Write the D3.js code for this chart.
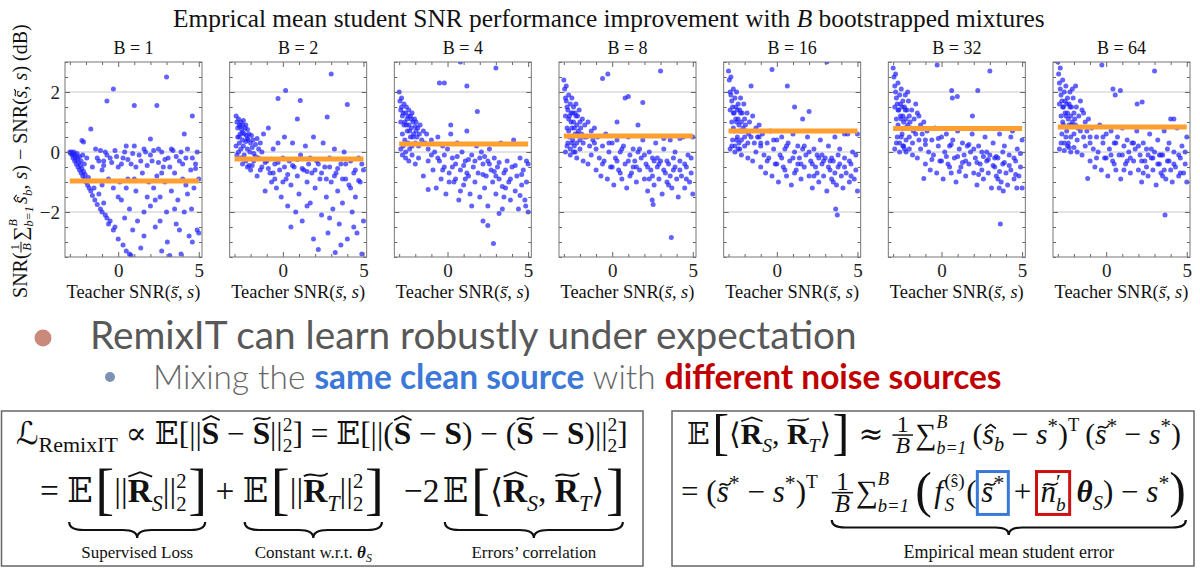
<!DOCTYPE html>
<html>
<head>
<meta charset="utf-8">
<title>RemixIT bootstrapped mixtures</title>
<script src="https://cdn.jsdelivr.net/npm/d3@7"></script>
<style>
  body { margin: 0; background: #fff; }
  svg text { white-space: pre; }
</style>
</head>
<body>
<svg id="chart" width="1200" height="570"></svg>
<script>
// ---- data ----
var categories = ['B = 1', 'B = 2', 'B = 4', 'B = 8', 'B = 16', 'B = 32', 'B = 64'];
var bValues = [1, 2, 4, 8, 16, 32, 64];
var meanImprovement = [-0.97, -0.23, 0.27, 0.53, 0.70, 0.78, 0.83];
var xTickLabels = [0, 5];
var yTickLabels = [-2, 0, 2];
var gridValues = [-2, 0, 2];

var pointsB1 = [[-3.0,0.0],[-2.95,-0.05],[-2.9,0.0],[-2.85,-0.1],[-2.8,-0.05],[-2.8,-0.2],[-2.75,0.0],[-2.7,-0.15],[-2.7,-0.3],[-2.65,-0.1],[-2.6,-0.25],[-2.6,-0.4],[-2.55,-0.05],[-2.5,-0.2],[-2.5,-0.5],[-2.45,-0.35],[-2.4,-0.6],[-2.4,-0.15],[-2.35,-0.45],[-2.3,-0.7],[-2.3,-0.3],[-2.25,-0.55],[-2.2,-0.8],[-2.2,-0.1],[-2.15,-0.65],[-2.1,-0.4],[-2.1,-0.9],[-2.05,-0.75],[-2.0,-1.0],[-1.95,-0.2],[-1.9,-1.1],[-1.85,-0.85],[-1.8,-1.2],[-1.7,-1.3],[-1.6,-0.5],[-1.6,-1.45],[-1.5,-1.2],[-1.45,-1.6],[-1.3,-1.75],[-1.2,-1.4],[-1.1,-1.9],[-1.0,-2.0],[-0.9,-1.7],[-0.8,-2.1],[-0.7,-2.2],[-0.6,-2.4],[-0.5,-2.3],[-0.3,-2.6],[-0.2,-2.5],[0.0,-2.9],[0.3,-3.1],[0.5,-3.3],[0.7,-3.4],[0.8,-3.45],
  [3.0,2.5],[-0.3,2.1],[-0.7,1.7],[1.0,1.55],[2.4,1.55],[4.6,1.2],[-1.7,0.77],[-2.25,0.38],[-2.15,0.33],[2.0,0.43],[4.1,0.6],
  [-1.4,0.1],[-1.2,-0.3],[-1.0,-0.6],[-0.8,0.0],[-0.6,-0.9],[-0.5,-0.2],[-0.3,-1.2],[-0.2,0.05],[0.0,-0.5],[0.2,-1.6],[0.3,-0.2],[0.5,0.2],[0.6,-0.9],[0.7,-1.9],[0.8,-0.4],[1.0,0.2],[1.1,-1.3],[1.2,-2.3],[1.3,-0.1],[1.5,-0.7],[1.6,-2.8],[1.7,0.0],[1.9,-1.0],[2.0,-1.8],[2.1,-0.3],[2.3,-2.5],[2.4,-0.8],[2.5,0.1],[2.6,-1.5],[2.7,-3.3],[2.8,-0.5],[2.9,-1.0],[3.0,-2.0],[3.1,-0.2],[3.2,-3.45],[3.3,-1.3],[3.4,0.05],[3.5,-0.7],[3.6,-2.4],[3.7,-1.6],[3.8,-0.3],[3.9,-3.4],[4.0,-0.9],[4.1,-2.0],[4.2,-0.2],[4.3,-1.4],[4.4,-2.8],[4.5,-0.6],[4.6,-3.0],[4.7,-1.2],[4.8,-0.4],[4.9,-2.6],[5.0,-0.9],[5.0,-2.7],[0.1,-1.0],[0.9,-2.6],[1.4,-3.2],[2.2,-1.2],[3.05,-3.0],[4.55,-1.9],[-0.9,-0.3],[0.4,-2.2],[1.8,-1.5],[2.7,-0.7],
  [-1.3,-0.2],[-1.1,0.05],[-0.9,-0.45],[-0.7,-0.1],[-0.4,-0.35],[-0.1,-0.15],[0.2,-0.4],[0.4,0.0],[0.6,-0.25],[0.9,-0.05],[1.1,-0.5],[1.4,-0.3],[1.6,0.1],[1.8,-0.45],[2.0,-0.1],[2.2,0.05],[2.5,-0.35],[2.7,0.0],[2.9,-0.25],[3.2,-0.5],[3.3,0.1],[3.6,-0.15],[3.9,0.0],[4.0,-0.4],[4.3,0.1],[4.6,-0.2],[4.8,-0.55],[4.9,0.0],[-1.0,-1.1],[0.0,-1.5],[1.0,-0.9],[2.3,-1.6],[3.5,-1.9],[4.2,-1.1],[0.5,-1.2],[1.6,-2.0],[2.6,-2.3],[3.8,-2.6]];

var pointsB2 = [[-2.9,1.2],[-2.85,1.0],[-2.8,0.8],[-2.8,0.5],[-2.75,1.1],[-2.7,0.3],[-2.7,0.9],[-2.65,0.6],[-2.6,1.0],[-2.6,0.1],[-2.55,0.75],[-2.5,0.4],[-2.5,0.9],[-2.45,0.2],[-2.4,0.6],[-2.4,-0.1],[-2.35,0.8],[-2.3,0.35],[-2.25,0.55],[-2.2,0.1],[-2.2,0.75],[-2.15,0.4],[-2.1,0.6],[-2.05,0.0],[-2.0,0.3],[-1.95,0.55],[-1.9,0.15],[-1.85,0.4],[-1.8,-0.05],[-1.7,0.25],[-1.6,0.45],[-1.5,0.1],[-1.4,0.3],[-1.3,0.0],[-2.9,0.2],[-2.85,-0.1],[-2.75,0.0],[-2.6,-0.2],[-2.5,-0.4],[-2.3,-0.3],[-2.1,-0.45],
  [-2.0,-0.6],[-1.8,-0.3],[-1.6,-0.8],[-1.5,-0.2],[-1.3,-0.5],[-1.2,0.6],[-1.1,-1.3],[-1.0,-0.3],[-0.9,0.8],[-0.8,-0.7],[-0.7,-1.0],[-0.6,0.1],[-0.5,-0.4],[-0.4,-1.2],[-0.3,0.3],[-0.2,-0.6],[-0.1,-1.5],[0.0,-0.2],[0.1,0.5],[0.2,-0.9],[0.3,-1.8],[0.4,-0.3],[0.5,-1.1],[0.6,0.3],[0.7,-0.5],[0.8,-2.0],[0.9,-0.8],[1.0,-1.4],[1.1,-0.1],[1.2,-2.3],[1.3,-0.6],[1.4,0.2],[1.5,-1.0],[1.6,-0.4],[1.7,-1.7],[1.8,-0.7],[1.9,0.5],[2.0,-1.2],[2.1,-0.3],[2.2,-3.25],[2.3,-0.9],[2.4,-2.1],[2.5,0.3],[2.6,-0.5],[2.7,-1.5],[2.8,-2.7],[2.9,-0.2],[3.0,-1.0],[3.1,-1.9],[3.2,0.1],[3.25,-3.35],[3.3,-0.7],[3.4,-1.3],[3.5,-2.4],[3.6,-0.4],[3.7,-1.7],[3.8,0.0],[3.9,-0.9],[4.0,-2.9],[4.1,-1.1],[4.2,-0.3],[4.3,-2.0],[4.4,-0.7],[4.5,-1.5],[4.6,-2.7],[4.7,-0.2],[4.8,-1.0],[4.9,-3.4],[5.0,-0.6],[5.0,-2.3],[0.5,-2.5],[1.9,-2.9],[2.9,-2.2],[3.6,-3.1],[4.4,-2.5],[0.0,-1.0],[1.5,-1.8],[-0.5,-0.9],
  [3.0,2.6],[0.17,2.05],[-0.3,1.78],[1.08,1.72],[4.0,1.58],[0.9,1.1],[2.75,1.17],
  [-2.2,-0.5],[-1.9,-0.45],[-1.7,-0.15],[-1.4,-0.6],[-1.1,-0.35],[-0.9,-0.55],[-0.6,-0.7],[-0.3,-0.35],[0.1,-0.5],[0.3,-0.75],[0.6,-0.45],[0.9,-0.25],[1.2,-0.55],[1.5,-0.65],[1.7,-0.2],[2.0,-0.6],[2.2,-0.4],[2.4,-0.7],[2.7,-0.9],[2.9,-0.5],[3.2,-0.8],[3.4,-0.55],[3.7,-0.9],[3.9,-0.4],[4.2,-1.2],[4.5,-0.6],[4.7,-0.95],[4.9,-0.4],[-2.7,0.5],[-2.5,0.65],[-2.3,0.9],[-2.65,0.85],[-2.45,1.05],[-2.2,0.45]];

var pointsB4 = [[-3.0,2.0],[-2.95,1.7],[-2.9,1.4],[-2.9,1.0],[-2.85,1.8],[-2.8,0.6],[-2.8,1.2],[-2.75,0.2],[-2.7,1.6],[-2.7,0.9],[-2.65,0.4],[-2.6,1.3],[-2.6,0.0],[-2.55,1.5],[-2.5,0.7],[-2.5,1.1],[-2.45,0.3],[-2.4,1.4],[-2.4,0.9],[-2.35,0.1],[-2.3,1.2],[-2.3,0.5],[-2.25,0.8],[-2.2,1.3],[-2.2,0.2],[-2.15,1.0],[-2.1,0.6],[-2.05,1.1],[-2.0,0.3],[-2.0,0.85],[-1.95,1.0],[-1.9,0.5],[-1.85,0.8],[-1.8,0.2],[-1.7,0.9],[-1.6,0.4],[-1.5,0.7],[-1.4,0.3],[-1.3,0.6],[-1.2,0.1],[-2.9,0.1],[-2.8,-0.1],[-2.6,-0.2],[-2.4,-0.3],[-2.2,-0.1],[-2.0,-0.4],[-1.8,-0.2],
  [-1.5,-0.8],[-1.2,-0.3],[-1.0,0.4],[-0.9,-0.6],[-0.8,0.0],[-0.7,-1.2],[-0.6,0.5],[-0.5,-0.3],[-0.4,-0.9],[-0.3,0.2],[-0.2,-0.5],[-0.1,-1.4],[0.0,0.1],[0.1,-0.7],[0.2,0.6],[0.3,-0.2],[0.4,-1.0],[0.5,-0.4],[0.6,0.3],[0.7,-1.6],[0.8,-0.6],[0.9,0.0],[1.0,-1.1],[1.1,-0.3],[1.2,0.7],[1.3,-0.8],[1.4,-1.4],[1.5,-0.1],[1.6,-0.5],[1.7,-1.0],[1.8,0.2],[1.9,-0.7],[2.0,-1.5],[2.1,0.0],[2.2,-0.4],[2.3,-1.2],[2.4,-0.8],[2.5,-1.8],[2.6,0.1],[2.7,-0.6],[2.8,-1.0],[2.9,-0.2],[3.0,-1.4],[3.1,-0.5],[3.2,-0.9],[3.3,0.3],[3.4,-1.9],[3.5,-0.7],[3.6,-1.2],[3.7,-0.3],[3.8,-1.0],[3.9,-1.6],[4.0,-0.5],[4.1,0.4],[4.2,-1.3],[4.3,-0.8],[4.4,-1.9],[4.5,-0.2],[4.6,-1.1],[4.7,-0.6],[4.8,-1.6],[4.9,-1.0],[5.0,-0.4],[5.0,-2.0],[4.85,-1.8],[0.5,-0.9],[1.5,-1.8],[2.5,-0.3],[3.5,-1.5],[4.5,-1.45],[0.8,-1.3],[2.0,-0.2],[3.0,-0.8],[-0.3,-0.6],[1.2,-0.7],
  [0.8,3.0],[-0.5,2.3],[-0.2,2.3],[1.2,2.2],[3.0,2.8],[2.2,-2.3],[2.5,-2.45],[2.85,-3.05],[3.2,-2.05],[1.85,1.35],[-1.2,-1.25],[0.1,-1.0],[0.2,0.9],
  [-2.85,1.5],[-2.75,1.3],[-2.65,1.0],[-2.55,0.9],[-2.45,1.2],[-2.35,0.7],[-2.25,1.1],[-2.15,0.5],[-1.95,0.7],[-1.75,0.6],[-1.0,-0.1],[-0.6,-0.2],[-0.2,-0.1],[0.3,-0.5],[0.6,-0.15],[1.0,-0.45],[1.3,-0.25],[1.7,-0.3],[2.2,-0.75],[2.6,-0.4],[2.9,-0.65],[3.2,-0.35],[3.6,-0.6],[3.9,-0.9],[4.2,-0.45],[4.6,-0.75],[4.9,-0.3],[1.1,-0.9],[2.3,-0.15],[3.4,-1.15]];

var pointsB8 = [[-3.0,2.4],[-2.95,2.1],[-2.9,1.8],[-2.9,1.2],[-2.85,2.2],[-2.8,0.8],[-2.8,1.5],[-2.75,0.3],[-2.7,1.9],[-2.7,1.1],[-2.65,0.5],[-2.6,1.6],[-2.6,0.1],[-2.55,1.3],[-2.5,0.8],[-2.5,1.8],[-2.45,0.4],[-2.4,1.5],[-2.4,1.0],[-2.35,0.2],[-2.3,1.3],[-2.3,0.6],[-2.25,1.6],[-2.2,0.9],[-2.2,0.3],[-2.15,1.2],[-2.1,0.7],[-2.05,1.4],[-2.0,0.4],[-2.0,1.0],[-1.9,0.6],[-1.85,1.1],[-1.8,0.3],[-1.7,0.9],[-1.6,0.5],[-1.5,1.0],[-1.4,0.2],[-1.3,0.7],[-1.2,0.4],[-1.1,0.8],[-2.9,0.0],[-2.8,0.2],[-2.6,-0.1],[-2.4,0.0],[-2.2,-0.2],[-2.0,0.1],[-1.8,-0.3],[-2.7,0.7],[-2.5,0.3],[-2.3,0.0],
  [-1.5,-0.4],[-1.3,-0.1],[-1.1,0.3],[-1.0,-0.6],[-0.9,0.5],[-0.8,-0.2],[-0.7,-0.8],[-0.6,0.2],[-0.5,-0.3],[-0.4,0.6],[-0.3,-0.9],[-0.2,0.0],[-0.1,-0.5],[0.0,0.3],[0.1,-1.1],[0.2,-0.2],[0.3,0.4],[0.4,-0.6],[0.5,0.0],[0.6,-0.9],[0.7,0.2],[0.8,-0.4],[0.9,-1.2],[1.0,0.5],[1.1,-0.1],[1.2,-0.7],[1.3,0.1],[1.4,-0.3],[1.5,-1.0],[1.6,0.0],[1.7,-0.6],[1.8,-0.2],[1.9,0.4],[2.0,-0.9],[2.1,-0.4],[2.2,-1.3],[2.3,0.0],[2.4,-0.6],[2.5,-0.2],[2.6,-1.1],[2.7,0.3],[2.8,-0.5],[2.9,-0.9],[3.0,-0.3],[3.1,-1.4],[3.2,0.1],[3.3,-0.7],[3.4,-1.0],[3.5,-0.4],[3.6,0.4],[3.7,-1.2],[3.8,-0.6],[3.9,0.0],[4.0,-0.9],[4.1,-1.5],[4.2,-0.3],[4.3,-0.8],[4.4,0.5],[4.5,-1.2],[4.6,-0.5],[4.7,-0.1],[4.8,-1.0],[4.9,-0.7],[5.0,-1.4],[5.0,0.5],[4.2,0.45],[3.2,0.45],[0.5,-0.7],[1.5,-0.5],[2.5,-0.8],[3.5,-1.1],[4.5,-0.4],[0.0,-0.5],[2.0,-0.1],[2.8,-0.2],[3.8,-0.2],
  [-0.27,2.6],[-0.6,2.45],[3.0,2.7],[1.0,1.85],[0.8,1.8],[1.9,1.65],[3.67,-2.85],[2.48,-1.6],[2.54,-1.75],[0.3,1.0],[1.6,0.9],
  [-2.85,1.7],[-2.75,1.4],[-2.65,1.2],[-2.55,1.0],[-2.45,1.3],[-2.35,0.8],[-2.25,1.2],[-2.15,0.6],[-1.95,0.8],[-1.75,0.5],[-1.0,0.1],[-0.6,-0.4],[-0.2,0.3],[0.3,-0.3],[0.6,0.1],[1.0,-0.3],[1.3,-0.5],[1.7,0.1],[2.2,-0.5],[2.6,-0.3],[2.9,-0.4],[3.2,-0.6],[3.6,-0.8],[3.9,-0.5],[4.2,-0.6],[4.6,-0.9],[4.9,-0.2],[1.1,-0.8],[2.3,-0.9],[3.4,-0.3]];

var pointsB16 = [[-3.0,2.7],[-2.95,2.4],[-2.9,2.0],[-2.9,1.4],[-2.85,2.5],[-2.8,1.0],[-2.8,1.7],[-2.75,0.4],[-2.7,2.1],[-2.7,1.3],[-2.65,0.7],[-2.6,1.8],[-2.6,0.2],[-2.55,1.5],[-2.5,1.0],[-2.5,2.0],[-2.45,0.5],[-2.4,1.6],[-2.4,1.1],[-2.35,0.3],[-2.3,1.4],[-2.3,0.7],[-2.25,1.8],[-2.2,1.0],[-2.2,0.4],[-2.15,1.3],[-2.1,0.8],[-2.05,1.6],[-2.0,0.5],[-2.0,1.1],[-1.9,0.7],[-1.85,1.3],[-1.8,0.3],[-1.7,1.0],[-1.6,0.5],[-1.5,1.2],[-1.4,0.3],[-1.3,0.8],[-1.2,0.5],[-1.1,0.9],[-2.9,0.1],[-2.8,0.2],[-2.6,0.0],[-2.4,0.1],[-2.2,-0.1],[-2.0,0.2],[-1.8,-0.2],[-2.7,0.8],[-2.5,0.4],[-2.3,0.1],[-1.0,0.3],
  [-1.5,-0.3],[-1.3,0.0],[-1.1,0.5],[-1.0,-0.5],[-0.9,0.6],[-0.8,-0.1],[-0.7,-0.7],[-0.6,0.3],[-0.5,-0.2],[-0.4,0.7],[-0.3,-0.8],[-0.2,0.1],[-0.1,-0.4],[0.0,0.4],[0.1,-1.0],[0.2,-0.1],[0.3,0.5],[0.4,-0.5],[0.5,0.1],[0.6,-0.8],[0.7,0.3],[0.8,-0.3],[0.9,-1.1],[1.0,0.6],[1.1,0.0],[1.2,-0.6],[1.3,0.2],[1.4,-0.2],[1.5,-0.9],[1.6,0.1],[1.7,-0.5],[1.8,-0.1],[1.9,0.5],[2.0,-0.8],[2.1,-0.3],[2.2,-1.2],[2.3,0.1],[2.4,-0.5],[2.5,-0.1],[2.6,-1.0],[2.7,0.4],[2.8,-0.4],[2.9,-0.8],[3.0,-0.2],[3.1,-1.3],[3.2,0.2],[3.3,-0.6],[3.4,-0.9],[3.5,-0.3],[3.6,0.5],[3.7,-1.1],[3.8,-0.5],[3.9,0.1],[4.0,-0.8],[4.1,-1.2],[4.2,-0.2],[4.3,-0.7],[4.4,0.6],[4.5,-1.0],[4.6,-0.4],[4.7,0.0],[4.8,-0.9],[4.9,-0.6],[5.0,-1.3],[5.0,0.6],[4.2,0.6],[0.5,-0.6],[1.5,-0.4],[2.5,-0.7],[3.5,-1.0],[4.5,-0.3],[0.0,-0.4],[2.0,0.0],[2.8,-0.1],[3.8,-0.1],[3.3,-0.3],
  [3.1,3.0],[-0.3,2.75],[0.65,2.2],[1.1,1.5],[2.0,1.35],[3.65,-1.9],[3.75,-2.1],[-1.6,2.2],[1.6,1.1],
  [-2.85,1.9],[-2.75,1.5],[-2.65,1.3],[-2.55,1.1],[-2.45,1.4],[-2.35,0.9],[-2.25,1.3],[-2.15,0.7],[-1.95,0.9],[-1.75,0.6],[-1.0,0.2],[-0.6,-0.3],[-0.2,0.4],[0.3,-0.2],[0.6,0.2],[1.0,-0.2],[1.3,-0.4],[1.7,0.2],[2.2,-0.4],[2.6,-0.2],[2.9,-0.3],[3.2,-0.5],[3.6,-0.7],[3.9,-0.4],[4.2,-0.5],[4.6,-0.8],[4.9,-0.1],[1.1,-0.7],[2.3,-0.8],[3.4,-0.2]];

var pointsB32 = [[-3.0,2.8],[-2.95,2.5],[-2.9,2.2],[-2.9,1.5],[-2.85,2.6],[-2.8,1.1],[-2.8,1.8],[-2.75,0.5],[-2.7,2.3],[-2.7,1.4],[-2.65,0.8],[-2.6,1.9],[-2.6,0.3],[-2.55,1.6],[-2.5,1.1],[-2.5,2.1],[-2.45,0.6],[-2.4,1.7],[-2.4,1.2],[-2.35,0.2],[-2.3,1.5],[-2.3,0.8],[-2.25,1.9],[-2.2,1.1],[-2.2,0.4],[-2.15,1.4],[-2.1,0.9],[-2.05,1.7],[-2.0,0.5],[-2.0,1.2],[-1.9,0.8],[-1.85,1.4],[-1.8,0.3],[-1.7,1.1],[-1.6,0.6],[-1.5,1.3],[-1.4,0.4],[-1.3,0.9],[-1.2,0.6],[-1.1,1.0],[-2.9,0.1],[-2.8,0.3],[-2.6,0.0],[-2.4,0.2],[-2.2,0.0],[-2.0,0.1],[-1.8,-0.1],[-2.7,0.9],[-2.5,0.5],[-2.3,0.1],[-1.0,0.4],[-1.6,1.6],[-1.4,1.2],[-2.1,2.0],
  [-1.5,-0.2],[-1.3,0.1],[-1.1,-0.88],[-1.0,-0.4],[-0.9,0.7],[-0.8,0.0],[-0.7,-0.6],[-0.6,0.4],[-0.5,-0.1],[-0.4,0.8],[-0.3,-0.7],[-0.2,0.2],[-0.1,-0.3],[0.0,0.5],[0.1,-0.9],[0.2,0.0],[0.3,0.6],[0.4,-0.4],[0.5,0.2],[0.6,-0.7],[0.7,0.4],[0.8,-0.2],[0.9,-1.0],[1.0,0.7],[1.1,0.1],[1.2,-0.5],[1.3,0.3],[1.4,-0.1],[1.5,-0.8],[1.6,0.2],[1.7,-0.4],[1.8,0.0],[1.9,0.6],[2.0,-0.7],[2.1,-0.2],[2.2,-1.1],[2.3,0.2],[2.4,-0.4],[2.5,0.0],[2.6,-0.9],[2.7,0.5],[2.8,-0.3],[2.9,-0.7],[3.0,-0.1],[3.1,-1.2],[3.2,0.3],[3.3,-0.5],[3.4,-0.8],[3.5,-0.2],[3.6,0.6],[3.7,-1.0],[3.8,-0.4],[3.9,0.2],[4.0,-0.7],[4.1,-1.1],[4.2,-0.1],[4.3,-0.6],[4.4,0.7],[4.5,-0.9],[4.6,-0.3],[4.7,0.1],[4.8,-0.8],[4.9,-0.5],[5.0,-1.2],[5.0,0.4],[4.3,0.5],[0.5,-0.5],[1.5,-0.3],[2.5,-0.6],[3.5,-0.9],[4.5,-0.2],[0.0,-0.3],[2.0,0.1],[2.8,0.0],[3.8,0.0],[3.3,-0.2],
  [-0.27,2.9],[3.0,2.7],[2.25,2.05],[0.63,2.05],[0.98,1.85],[0.67,1.8],[3.65,-2.4],[3.58,-1.2],[3.83,-1.3],[4.67,-1.2],[1.92,1.2],
  [-2.85,2.0],[-2.75,1.6],[-2.65,1.4],[-2.55,1.2],[-2.45,1.5],[-2.35,1.0],[-2.25,1.4],[-2.15,0.8],[-1.95,1.0],[-1.75,0.7],[-1.0,0.25],[-0.6,-0.25],[-0.2,0.45],[0.3,-0.15],[0.6,0.25],[1.0,-0.15],[1.3,-0.35],[1.7,0.25],[2.2,-0.35],[2.6,-0.15],[2.9,-0.25],[3.2,-0.45],[3.6,-0.65],[3.9,-0.35],[4.2,-0.45],[4.6,-0.75],[4.9,-0.05],[1.1,-0.65],[2.3,-0.75],[3.4,-0.15]];

var pointsB64 = [[-3.0,3.0],[-2.95,2.6],[-2.9,2.3],[-2.9,1.6],[-2.85,2.8],[-2.8,1.2],[-2.8,1.9],[-2.75,0.6],[-2.7,2.4],[-2.7,1.5],[-2.65,0.9],[-2.6,2.0],[-2.6,0.3],[-2.55,1.7],[-2.5,1.2],[-2.5,2.2],[-2.45,0.7],[-2.4,1.8],[-2.4,1.3],[-2.35,0.3],[-2.3,1.6],[-2.3,0.9],[-2.25,2.0],[-2.2,1.2],[-2.2,0.5],[-2.15,1.5],[-2.1,1.0],[-2.05,1.8],[-2.0,0.6],[-2.0,1.3],[-1.9,0.9],[-1.85,1.5],[-1.8,0.4],[-1.7,1.2],[-1.6,0.7],[-1.5,1.4],[-1.4,0.5],[-1.3,1.0],[-1.2,0.7],[-1.1,1.1],[-2.9,0.1],[-2.8,0.3],[-2.6,0.05],[-2.4,0.2],[-2.2,0.0],[-2.0,0.15],[-1.8,0.0],[-2.7,1.0],[-2.5,0.5],[-2.3,0.15],[-1.0,0.5],[-1.6,1.7],[-1.4,1.3],[-2.1,2.1],[-1.9,2.2],
  [-1.5,-0.1],[-1.3,0.2],[-1.15,-0.88],[-1.0,-0.3],[-0.9,0.8],[-0.8,0.1],[-0.7,-0.5],[-0.6,0.5],[-0.5,0.0],[-0.4,0.9],[-0.3,-0.6],[-0.2,0.3],[-0.1,-0.2],[0.0,0.6],[0.1,-0.8],[0.2,0.1],[0.3,0.7],[0.4,-0.3],[0.5,0.3],[0.6,-0.6],[0.7,0.5],[0.8,-0.1],[0.9,-0.9],[1.0,0.8],[1.1,0.2],[1.2,-0.4],[1.3,0.4],[1.4,0.0],[1.5,-0.7],[1.6,0.3],[1.7,-0.3],[1.8,0.1],[1.9,0.7],[2.0,-0.6],[2.1,-0.1],[2.2,-1.0],[2.3,0.3],[2.4,-0.3],[2.5,0.1],[2.6,-0.8],[2.7,0.6],[2.8,-0.2],[2.9,-0.6],[3.0,0.0],[3.1,-1.1],[3.2,0.4],[3.3,-0.4],[3.4,-0.7],[3.5,-0.1],[3.6,0.7],[3.7,-0.9],[3.8,-0.3],[3.9,0.3],[4.0,-0.6],[4.1,-1.0],[4.2,0.0],[4.3,-0.5],[4.4,0.8],[4.5,-0.8],[4.6,-0.2],[4.7,0.2],[4.8,-0.7],[4.9,-0.4],[5.0,-1.0],[5.0,0.5],[0.5,-0.4],[1.5,-0.2],[2.5,-0.5],[3.5,-0.8],[4.5,-0.1],[0.0,-0.2],[2.0,0.2],[2.8,0.1],[3.8,0.1],[3.3,-0.1],
  [-0.27,2.9],[3.0,2.7],[0.42,2.1],[0.88,2.05],[0.56,1.9],[1.92,1.6],[2.23,1.67],[3.65,-2.1],[4.0,1.1],[4.2,1.1],
  [-2.85,2.1],[-2.75,1.7],[-2.65,1.5],[-2.55,1.3],[-2.45,1.6],[-2.35,1.1],[-2.25,1.5],[-2.15,0.9],[-1.95,1.1],[-1.75,0.8],[-1.0,0.3],[-0.6,-0.2],[-0.2,0.5],[0.3,-0.1],[0.6,0.3],[1.0,-0.1],[1.3,-0.3],[1.7,0.3],[2.2,-0.3],[2.6,-0.1],[2.9,-0.2],[3.2,-0.4],[3.6,-0.6],[3.9,-0.3],[4.2,-0.4],[4.6,-0.7],[4.9,0.0],[1.1,-0.6],[2.3,-0.7],[3.4,-0.1]];

var panelPoints = [pointsB1, pointsB2, pointsB4, pointsB8, pointsB16, pointsB32, pointsB64];

// ---- fonts / helpers ----
var SERIF = "'Liberation Serif','Times New Roman',serif";
var MATHF = "'DejaVu Serif','DejaVu Sans',serif";
var LATO = "Lato,'Open Sans',sans-serif";

var svg = d3.select('#chart');

function accent(g, type, sx, w, yb, size, it, ah) {
  var top = yb - (ah || 0.74) * size;
  var off = it ? 0.1 * size : 0.02 * size;
  var x1 = sx + off, x2 = sx + w + off * 0.6;
  var d;
  if (type === 'hat') {
    d = 'M' + x1 + ',' + (top - 0.02 * size) + 'L' + ((x1 + x2) / 2) + ',' + (top - 0.15 * size) +
        'L' + x2 + ',' + (top - 0.02 * size);
  } else {
    d = 'M' + x1 + ',' + (top - 0.03 * size) + 'C' + (x1 + (x2 - x1) * 0.35) + ',' + (top - 0.2 * size) +
        ' ' + (x1 + (x2 - x1) * 0.62) + ',' + (top + 0.08 * size) + ' ' + x2 + ',' + (top - 0.12 * size);
  }
  g.append('path').attr('d', d).attr('fill', 'none').attr('stroke', '#111')
    .attr('stroke-width', Math.max(1, 0.055 * size));
}

// lays text pieces one after another; returns width and marked positions
function typeset(g, x0, y0, parts, fs) {
  var x = x0, start = x0, marks = {};
  parts.forEach(function (p) {
    if (p.k) x += p.k * fs;
    var sx = p.same ? start : x;
    if (p.m0) marks[p.m0] = { x0: sx };
    if (p.frac) {
      var ds = fs * (p.s || 0.7);
      var bary = y0 - 0.3 * fs;
      var num = g.append('text').attr('font-size', ds).attr('font-family', SERIF)
        .attr('fill', '#111').text(p.frac[0]);
      var den = g.append('text').attr('font-size', ds).attr('font-family', SERIF)
        .attr('font-style', 'italic').attr('fill', '#111').text(p.frac[1]);
      var wn = num.node().getComputedTextLength(), wd = den.node().getComputedTextLength();
      var W = Math.max(wn, wd) + 0.25 * ds;
      num.attr('x', sx + (W - wn) / 2).attr('y', bary - 0.1 * fs);
      den.attr('x', sx + (W - wd) / 2).attr('y', bary + 0.08 * fs + 0.66 * ds);
      g.append('line').attr('x1', sx).attr('x2', sx + W).attr('y1', bary).attr('y2', bary)
        .attr('stroke', '#111').attr('stroke-width', Math.max(0.8, 0.05 * fs));
      start = sx; x = sx + W;
    } else {
      var size = fs * (p.s || 1);
      var yb = y0 + (p.dy || 0) * fs;
      var t = g.append('text')
        .attr('x', sx).attr('y', yb)
        .attr('xml:space', 'preserve')
        .attr('font-size', size)
        .attr('font-family', p.f || SERIF)
        .attr('font-style', p.it ? 'italic' : null)
        .attr('font-weight', p.w || (p.b ? 'bold' : null))
        .attr('fill', p.col || '#111')
        .text(p.t);
      var w = t.node().getComputedTextLength();
      if (p.same) { x = Math.max(x, sx + w); } else { start = sx; x = sx + w; }
      if (p.acc) accent(g, p.acc, sx, w, yb, size, p.it, p.ah);
    }
    if (p.m1) { marks[p.m1] = marks[p.m1] || {}; marks[p.m1].x1 = x; }
  });
  return { width: x - x0, marks: marks, fs: fs };
}

function fit(parent, x0, y0, parts, target, fs0) {
  var tmp = parent.append('g');
  var r0 = typeset(tmp, 0, 0, parts, fs0);
  tmp.remove();
  return typeset(parent, x0, y0, parts, fs0 * target / r0.width);
}

function centered(parent, cx, y0, parts, fs) {
  var tmp = parent.append('g');
  var w = typeset(tmp, 0, 0, parts, fs).width;
  tmp.remove();
  return typeset(parent, cx - w / 2, y0, parts, fs);
}

function brace(g, x1, x2, y, h) {
  var m = (x1 + x2) / 2, r = Math.min(h * 0.9, (x2 - x1) / 6);
  var d = 'M' + x1 + ',' + y +
    'Q' + x1 + ',' + (y + h / 2) + ' ' + (x1 + r) + ',' + (y + h / 2) +
    'L' + (m - r) + ',' + (y + h / 2) +
    'Q' + m + ',' + (y + h / 2) + ' ' + m + ',' + (y + h) +
    'Q' + m + ',' + (y + h / 2) + ' ' + (m + r) + ',' + (y + h / 2) +
    'L' + (x2 - r) + ',' + (y + h / 2) +
    'Q' + x2 + ',' + (y + h / 2) + ' ' + x2 + ',' + y;
  g.append('path').attr('d', d).attr('fill', 'none').attr('stroke', '#111').attr('stroke-width', 2.2);
}

// ---- scatter panels ----
var top0 = 62, bottom0 = 257;
var band = d3.scaleBand().domain(categories).range([65, 1190]).paddingInner(0.168);
var bw = band.bandwidth();
var x = d3.scaleLinear().domain([-3.3, 5.2]).range([0, bw]);
var y = d3.scaleLinear().domain([-3.5, 3]).range([bottom0, top0]);
var minus = function (d) { return d < 0 ? '\u2212' + (-d) : String(d); };

fit(svg, 173, 27, [
  { t: 'Emprical mean student SNR performance improvement with ' },
  { t: 'B', it: true },
  { t: ' bootstrapped mixtures' }
], 872, 22);

categories.forEach(function (cat, i) {
  var g = svg.append('g').attr('transform', 'translate(' + band(cat) + ',0)');

  g.append('clipPath').attr('id', 'clip' + i).append('rect')
    .attr('x', 0).attr('y', top0).attr('width', bw).attr('height', bottom0 - top0);

  g.selectAll('line.grid').data(gridValues).enter().append('line')
    .attr('class', 'grid')
    .attr('x1', 0).attr('x2', bw)
    .attr('y1', function (d) { return y(d); }).attr('y2', function (d) { return y(d); })
    .attr('stroke', '#c8c8c8').attr('stroke-width', 1);

  var plot = g.append('g').attr('clip-path', 'url(#clip' + i + ')');
  plot.selectAll('circle').data(panelPoints[i]).enter().append('circle')
    .attr('cx', function (d) { return x(d[0]); })
    .attr('cy', function (d) { return y(d[1]); })
    .attr('r', 2.5)
    .attr('fill', '#2020ff')
    .attr('fill-opacity', 0.7);

  plot.append('line')
    .attr('x1', x(-3)).attr('x2', x(5))
    .attr('y1', y(meanImprovement[i])).attr('y2', y(meanImprovement[i]))
    .attr('stroke', '#ff9f30').attr('stroke-width', 5);

  // inward ticks on all four sides
  var xt = d3.range(-3, 6), ytk = d3.range(-3.5, 3.01, 0.5);
  var big = function (v) { return v === 0 || v === 5; };
  var bigY = function (v) { return v === -2 || v === 0 || v === 2; };
  [['bottom', bottom0], ['top', top0]].forEach(function (s) {
    var ax = (s[0] === 'bottom' ? d3.axisBottom(x) : d3.axisTop(x)).tickValues(xt).tickSize(0).tickFormat('');
    var ag = g.append('g').attr('transform', 'translate(0,' + s[1] + ')').call(ax);
    ag.select('.domain').remove();
    ag.selectAll('.tick line').attr('y2', function (d) {
      var l = big(d) ? 5 : 3; return s[0] === 'bottom' ? -l : l;
    }).attr('stroke', '#666');
  });
  [['left', 0], ['right', bw]].forEach(function (s) {
    var ax = (s[0] === 'left' ? d3.axisLeft(y) : d3.axisRight(y)).tickValues(ytk).tickSize(0).tickFormat('');
    var ag = g.append('g').attr('transform', 'translate(' + s[1] + ',0)').call(ax);
    ag.select('.domain').remove();
    ag.selectAll('.tick line').attr('x2', function (d) {
      var l = bigY(d) ? 5 : 3; return s[0] === 'left' ? l : -l;
    }).attr('stroke', '#666');
  });

  g.append('rect').attr('x', 0).attr('y', top0).attr('width', bw).attr('height', bottom0 - top0)
    .attr('fill', 'none').attr('stroke', '#777').attr('stroke-width', 1);

  var xl = g.append('g').attr('transform', 'translate(0,' + bottom0 + ')')
    .call(d3.axisBottom(x).tickValues(xTickLabels).tickSize(0).tickFormat(minus));
  xl.select('.domain').remove();
  xl.selectAll('text').attr('y', 20).attr('dy', 0).attr('font-size', 19)
    .attr('font-family', SERIF).attr('fill', '#222');

  if (i === 0) {
    var yl = g.append('g').call(d3.axisLeft(y).tickValues(yTickLabels).tickSize(0).tickPadding(5).tickFormat(minus));
    yl.select('.domain').remove();
    yl.selectAll('text').attr('font-size', 19).attr('font-family', SERIF).attr('fill', '#222');
  }

  g.append('text').attr('x', bw / 2).attr('y', 54).attr('text-anchor', 'middle')
    .attr('font-family', SERIF).attr('font-size', 18).attr('fill', '#111')
    .text('B = ' + bValues[i]);

  fit(g, bw / 2 - 67, 298, [
    { t: 'Teacher SNR(' }, { t: 's', it: true, acc: 'tilde', ah: 0.52 }, { t: ', ' }, { t: 's', it: true }, { t: ')' }
  ], 134, 18);
});

// rotated y label
var ylab = svg.append('g').attr('transform', 'translate(27,161) rotate(-90)');
var ylabParts = [
  { t: 'SNR(' }, { frac: ['1', 'B'], s: 0.62 },
  { t: '\u2211', k: 0.05 }, { t: 'B', it: true, s: 0.6, dy: -0.5 }, { t: 'b=1', it: true, s: 0.6, dy: 0.3, same: true },
  { t: 's', it: true, acc: 'hat', ah: 0.5, k: 0.12 }, { t: 'b', it: true, s: 0.65, dy: 0.25 },
  { t: ', ' }, { t: 's', it: true }, { t: ') \u2212 SNR(' }, { t: 's', it: true, acc: 'tilde', ah: 0.52 },
  { t: ', ' }, { t: 's', it: true }, { t: ') (dB)' }
];
fit(ylab, -137, 0, ylabParts, 274, 17);

// ---- bullet text ----
svg.append('circle').attr('cx', 43).attr('cy', 338).attr('r', 8.5).attr('fill', '#c98a7b');
fit(svg, 90, 349, [{ t: 'RemixIT can learn robustly under expectation', f: LATO, col: '#585858' }], 767, 34);
svg.append('circle').attr('cx', 110).attr('cy', 377).attr('r', 5).attr('fill', '#7e92b4');
fit(svg, 153, 389, [
  { t: 'Mixing the ', f: LATO, w: 300, col: '#666' },
  { t: 'same clean source', f: LATO, b: true, col: '#3b78d8' },
  { t: ' with ', f: LATO, w: 300, col: '#666' },
  { t: 'different noise sources', f: LATO, b: true, col: '#c00000' }
], 849, 29);

// ---- formula boxes ----
svg.append('rect').attr('x', 1.5).attr('y', 411).attr('width', 641.5).attr('height', 155)
  .attr('fill', 'none').attr('stroke', '#666').attr('stroke-width', 1.5);
svg.append('rect').attr('x', 672).attr('y', 411).attr('width', 522).attr('height', 155)
  .attr('fill', 'none').attr('stroke', '#666').attr('stroke-width', 1.5);

var sup2 = { t: '2', s: 0.62, dy: -0.42 }, sub2 = { t: '2', s: 0.62, dy: 0.27, same: true };
var subS = { t: 'S', it: true, s: 0.66, dy: 0.27 }, subT = { t: 'T', it: true, s: 0.66, dy: 0.27 };
var star = { t: '*', s: 0.7, dy: -0.38 };
var supB = { t: 'B', it: true, s: 0.6, dy: -0.55 }, subB1 = { t: 'b=1', it: true, s: 0.6, dy: 0.33, same: true };
function BL(extra) { return Object.assign({ t: '[', s: 1.7, dy: 0.18, k: 0.08 }, extra || {}); }
function BR(extra) { return Object.assign({ t: ']', s: 1.7, dy: 0.18, k: 0.05 }, extra || {}); }

var box1 = svg.append('g');
fit(box1, 16, 444, [
  { t: '\u2112', f: MATHF }, { t: 'RemixIT', s: 0.7, dy: 0.25 },
  { t: '\u221D', k: 0.25, f: MATHF }, { t: '\uD835\uDD3C', k: 0.25, f: MATHF },
  { t: '[||' }, { t: 'S', b: true, acc: 'hat' }, { t: ' \u2212 ' }, { t: 'S', b: true, acc: 'tilde' },
  { t: '||' }, sup2, sub2, { t: ']' },
  { t: ' = ' }, { t: '\uD835\uDD3C', f: MATHF },
  { t: '[||(' }, { t: 'S', b: true, acc: 'hat' }, { t: ' \u2212 ' }, { t: 'S', b: true }, { t: ') \u2212 (' },
  { t: 'S', b: true, acc: 'tilde' }, { t: ' \u2212 ' }, { t: 'S', b: true }, { t: ')||' }, sup2, sub2, { t: ']' }
], 612, 26);

var l2 = fit(box1, 40, 502, [
  { t: '=' }, { t: '\uD835\uDD3C', f: MATHF, k: 0.25, m0: 't1' }, BL(),
  { t: '||' }, { t: 'R', b: true, acc: 'hat' }, subS, { t: '||' }, sup2, sub2, BR({ m1: 't1' }),
  { t: '+', k: 0.25 }, { t: '\uD835\uDD3C', f: MATHF, k: 0.25, m0: 't2' }, BL(),
  { t: '||' }, { t: 'R', b: true, acc: 'tilde' }, subT, { t: '||' }, sup2, sub2, BR({ m1: 't2' }),
  { t: '\u22122', k: 0.6 }, { t: '\uD835\uDD3C', f: MATHF, k: 0.1, m0: 't3' }, BL(),
  { t: '\u27E8', f: MATHF }, { t: 'R', b: true, acc: 'hat' }, subS, { t: ', ' },
  { t: 'R', b: true, acc: 'tilde' }, subT, { t: '\u27E9', f: MATHF }, BR({ m1: 't3' })
], 585, 26);

var braceLabels1 = [
  { key: 't1', parts: [{ t: 'Supervised Loss' }] },
  { key: 't2', parts: [{ t: 'Constant w.r.t. ' }, { t: '\u03B8', b: true, it: true }, { t: 'S', it: true, s: 0.7, dy: 0.25 }] },
  { key: 't3', parts: [{ t: 'Errors\u2019 correlation' }] }
];
braceLabels1.forEach(function (b) {
  var m = l2.marks[b.key];
  brace(box1, m.x0 + 2, m.x1 - 2, 522, 16);
  centered(box1, (m.x0 + m.x1) / 2, 558, b.parts, 17);
});

var box2 = svg.append('g');
fit(box2, 687, 444, [
  { t: '\uD835\uDD3C', f: MATHF }, BL(), { t: '\u27E8', f: MATHF }, { t: 'R', b: true, acc: 'hat' }, subS, { t: ', ' },
  { t: 'R', b: true, acc: 'tilde' }, subT, { t: '\u27E9', f: MATHF }, BR(),
  { t: '\u2248', k: 0.3, f: MATHF }, { frac: ['1', 'B'], s: 0.8, k: 0.3 },
  { t: '\u2211', k: 0.08 }, supB, subB1,
  { t: '(', k: 0.2 }, { t: 's', it: true, acc: 'hat', ah: 0.5 }, { t: 'b', it: true, s: 0.68, dy: 0.25 },
  { t: ' \u2212 ' }, { t: 's', it: true }, star, { t: ')' }, { t: 'T', s: 0.62, dy: -0.45 },
  { t: '(', k: 0.2 }, { t: 's', it: true, acc: 'tilde', ah: 0.5 }, star, { t: ' \u2212 ' }, { t: 's', it: true }, star, { t: ')' }
], 494, 24);

var r2 = fit(box2, 681, 502, [
  { t: '= (' }, { t: 's', it: true, acc: 'tilde', ah: 0.5 }, star, { t: ' \u2212 ' }, { t: 's', it: true }, star,
  { t: ')' }, { t: 'T', s: 0.62, dy: -0.45 },
  { frac: ['1', 'B'], s: 0.8, k: 0.45, m0: 'e' },
  { t: '\u2211', k: 0.08 }, supB, subB1,
  { t: '(', s: 1.6, dy: 0.15, k: 0.2 }, { t: 'f', it: true, k: 0.08 },
  { t: 'S', it: true, s: 0.62, dy: 0.3, k: 0.05 }, { t: '(\u015D)', s: 0.62, dy: -0.48, same: true },
  { t: '(', k: 0.05 }, { t: 's', it: true, acc: 'tilde', ah: 0.5, k: 0.15, m0: 'blue' }, { t: '*', s: 0.7, dy: -0.38, m1: 'blue' },
  { t: '+', k: 0.3 }, { t: 'n', it: true, acc: 'tilde', ah: 0.5, k: 0.3, m0: 'red' },
  { t: '\u2032', s: 0.7, dy: -0.42 }, { t: 'b', it: true, s: 0.62, dy: 0.3, same: true, m1: 'red' },
  { t: '\u03B8', b: true, it: true, k: 0.35 }, subS, { t: ') \u2212 ' }, { t: 's', it: true }, star,
  { t: ')', s: 1.6, dy: 0.15, m1: 'e' }
], 505, 24);

var fs2 = r2.fs;
[['blue', '#3a78d8'], ['red', '#cc1111']].forEach(function (c) {
  var m = r2.marks[c[0]];
  box2.append('rect')
    .attr('x', m.x0 - 4).attr('y', 502 - 0.98 * fs2)
    .attr('width', m.x1 - m.x0 + 8).attr('height', 1.38 * fs2)
    .attr('fill', 'none').attr('stroke', c[1]).attr('stroke-width', 3);
});
var me = r2.marks.e;
brace(box2, me.x0, me.x1, 520, 15);
centered(box2, (me.x0 + me.x1) / 2, 558, [{ t: 'Empirical mean student error' }], 18);
</script>
</body>
</html>
